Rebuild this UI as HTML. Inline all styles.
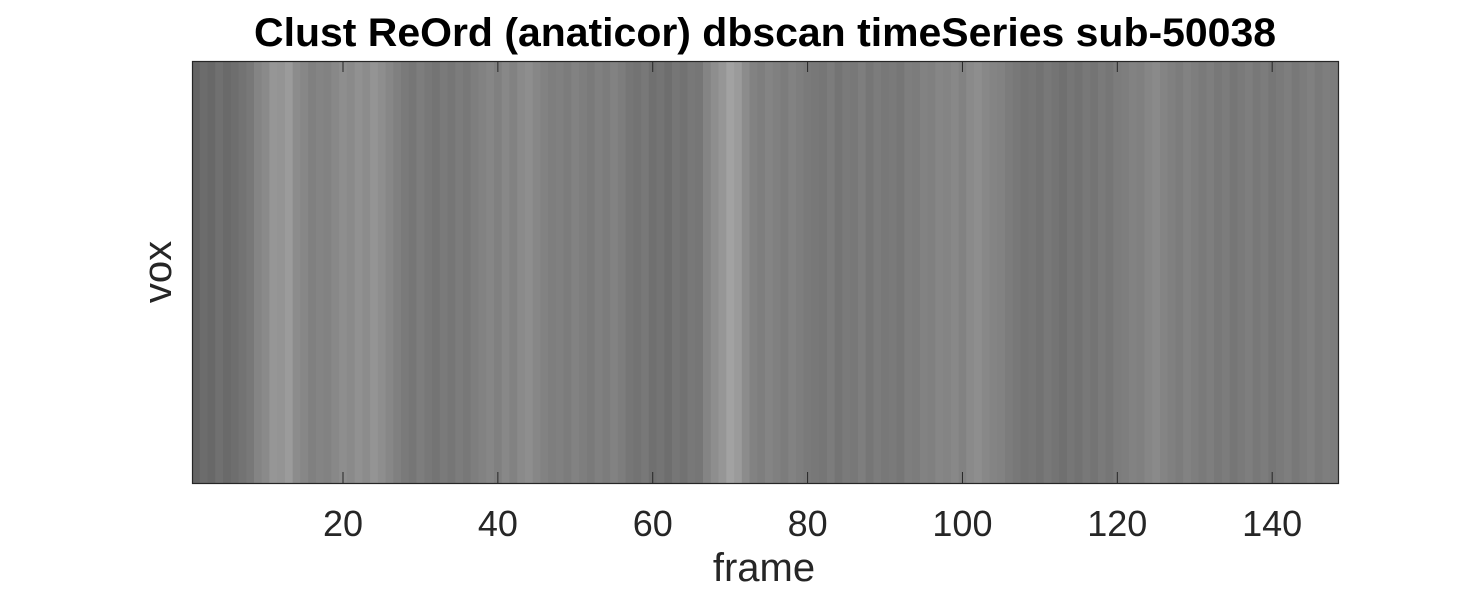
<!DOCTYPE html>
<html><head><meta charset="utf-8"><style>
body{margin:0;background:#fff;width:1476px;height:591px;overflow:hidden;font-family:"Liberation Sans",sans-serif}
</style></head><body>
<svg id="chart" width="1476" height="591" xmlns="http://www.w3.org/2000/svg">
<text x="765" y="46" text-anchor="middle" font-size="40" font-weight="bold" fill="#000" textLength="1022" lengthAdjust="spacingAndGlyphs">Clust ReOrd (anaticor) dbscan timeSeries sub-50038</text>
<g id="cells"></g>
<rect x="192.5" y="61.5" width="1146" height="422" fill="none" stroke="#262626" stroke-width="1.2"/>
<g id="ticks"></g>
<text x="764" y="581" text-anchor="middle" font-size="40" fill="#262626">frame</text>
<text transform="translate(171,272) rotate(-90)" text-anchor="middle" font-size="40" fill="#262626">vox</text>
</svg>
<script>
const frameMeans=[100,108,104,112,106,110,115,120,132,138,
150,148,155,140,135,128,132,130,136,142,
138,145,140,148,142,135,128,122,118,125,
120,116,122,118,124,120,126,130,134,128,
136,130,138,142,135,130,126,128,124,130,
126,122,128,124,130,125,118,115,120,112,
116,110,118,114,120,118,132,142,150,162,
155,140,130,126,132,128,124,130,126,122,
120,118,124,116,122,120,126,118,124,120,
122,118,126,124,130,128,134,132,136,130,
138,142,136,132,130,124,120,116,118,114,
120,116,112,118,114,120,116,122,118,124,
126,130,128,134,138,132,128,124,130,126,
122,126,120,124,118,122,126,120,124,118,
122,126,120,124,128,122,126,124];
const tickValues=[20,40,60,80,100,120,140];
const tickLabels=["20","40","60","80","100","120","140"];
const NS="http://www.w3.org/2000/svg";
const X0=192,X1=1338,Y0=61,Y1=483,xmin=0.5,xmax=frameMeans.length+0.5;
function xs(v){return X0+(v-xmin)/(xmax-xmin)*(X1-X0);}
const cells=document.getElementById('cells');
frameMeans.forEach((g,i)=>{
  const r=document.createElementNS(NS,'rect');
  const a=xs(i+0.5),b=xs(i+1.5);
  r.setAttribute('x',a);r.setAttribute('y',Y0);
  r.setAttribute('width',b-a+0.4);r.setAttribute('height',Y1-Y0);
  r.setAttribute('fill',`rgb(${g},${g},${g})`);
  
  
  cells.appendChild(r);
});
const tg=document.getElementById('ticks');
tickValues.forEach((v,i)=>{
  const x=xs(v);
  const t1=document.createElementNS(NS,'line');
  t1.setAttribute('x1',x);t1.setAttribute('x2',x);t1.setAttribute('y1',Y1);t1.setAttribute('y2',Y1-11);
  t1.setAttribute('stroke','#262626');
  
  
  tg.appendChild(t1);
  const t2=document.createElementNS(NS,'line');
  t2.setAttribute('x1',x);t2.setAttribute('x2',x);t2.setAttribute('y1',Y0);t2.setAttribute('y2',Y0+11);
  t2.setAttribute('stroke','#262626');
  
  
  tg.appendChild(t2);
  const tx=document.createElementNS(NS,'text');
  tx.setAttribute('x',x);tx.setAttribute('y',536);
  tx.setAttribute('text-anchor','middle');tx.setAttribute('font-size','36');tx.setAttribute('fill','#262626');
  tx.textContent=tickLabels[i];
  
  
  tg.appendChild(tx);
});
</script>
</body></html>
